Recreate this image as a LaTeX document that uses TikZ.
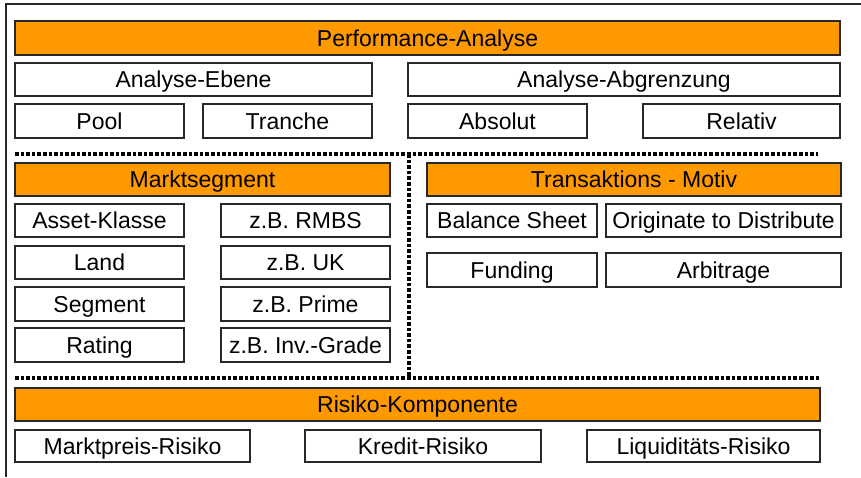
\documentclass[tikz,border=0pt]{standalone}
\usepackage{fontspec}
\setmainfont{Liberation Sans}
\definecolor{barorange}{RGB}{255,153,0}
\definecolor{frame}{RGB}{40,40,40}
\begin{document}
\begin{tikzpicture}[x=1pt,y=-1pt,
  box/.style={draw=frame, line width=1.2pt, fill=white, inner sep=0pt, text height=16.4pt, text depth=-1pt, font=\fontsize{23}{24}\selectfont, text=black},
  bar/.style={box, fill=barorange},
  sep/.style={line width=3.6pt, dash pattern=on 3.6pt off 2pt, black}]
\useasboundingbox (0,0) rectangle (861,477);
\fill[white] (0,0) rectangle (861,477);
\draw[frame, line width=1.3pt] (6,477) -- (6,4) -- (861,4);
% top block
\node[bar, minimum width=825, minimum height=34] (perf) at (427.5,38) {Performance-Analyse};
\node[box, minimum width=357, minimum height=33] (ebene) at (193.5,79.5) {Analyse-Ebene};
\node[box, minimum width=432, minimum height=33] (abgr) at (624,79.5) {Analyse-Abgrenzung};
\node[box, minimum width=169, minimum height=34] (pool) at (99.5,121) {Pool};
\node[box, minimum width=169, minimum height=34] (tranche) at (287.5,121) {Tranche};
\node[box, minimum width=179, minimum height=34] (absolut) at (497.5,121) {Absolut};
\node[box, minimum width=197, minimum height=34] (relativ) at (741.5,121) {Relativ};
% separators
\coordinate (s1a) at (15,154);
\coordinate (s1b) at (818,154);
\coordinate (v1) at (409,154);
\coordinate (v2) at (409,377);
\coordinate (s2a) at (15,378);
\coordinate (s2b) at (820,378);
\draw[sep] (s1a) -- (s1b);
\draw[sep] (v1) -- (v2);
\draw[sep] (s2a) -- (s2b);
% Marktsegment
\node[bar, minimum width=375, minimum height=33] (markt) at (202.5,179.5) {Marktsegment};
\node[box, minimum width=169, minimum height=33] (asset) at (99.5,220.5) {Asset-Klasse};
\node[box, minimum width=169, minimum height=33] (rmbs) at (305.5,220.5) {z.B. RMBS};
\node[box, minimum width=169, minimum height=33] (land) at (99.5,262.5) {Land};
\node[box, minimum width=169, minimum height=33] (uk) at (305.5,262.5) {z.B. UK};
\node[box, minimum width=169, minimum height=34] (segment) at (99.5,304) {Segment};
\node[box, minimum width=169, minimum height=34] (prime) at (305.5,304) {z.B. Prime};
\node[box, minimum width=169, minimum height=34] (rating) at (99.5,345) {Rating};
\node[box, minimum width=169, minimum height=34] (grade) at (305.5,345) {z.B. Inv.-Grade};
% Transaktions-Motiv
\node[bar, minimum width=414, minimum height=33] (trans) at (634,179.5) {Transaktions - Motiv};
\node[box, minimum width=170, minimum height=33] (balance) at (512,220.5) {Balance Sheet};
\node[box, minimum width=235, minimum height=33] (origin) at (723.5,220.5) {Originate to Distribute};
\node[box, minimum width=170, minimum height=34] (funding) at (512,270) {Funding};
\node[box, minimum width=235, minimum height=34] (arbit) at (723.5,270) {Arbitrage};
% Risiko
\node[bar, minimum width=805, minimum height=33] (risiko) at (417.5,404.5) {Risiko-Komponente};
\node[box, minimum width=235, minimum height=32] (marktp) at (132.5,446) {Marktpreis-Risiko};
\node[box, minimum width=236, minimum height=32] (kredit) at (423,446) {Kredit-Risiko};
\node[box, minimum width=233, minimum height=32] (liquid) at (703.5,446) {Liquiditäts-Risiko};
\end{tikzpicture}
\end{document}
